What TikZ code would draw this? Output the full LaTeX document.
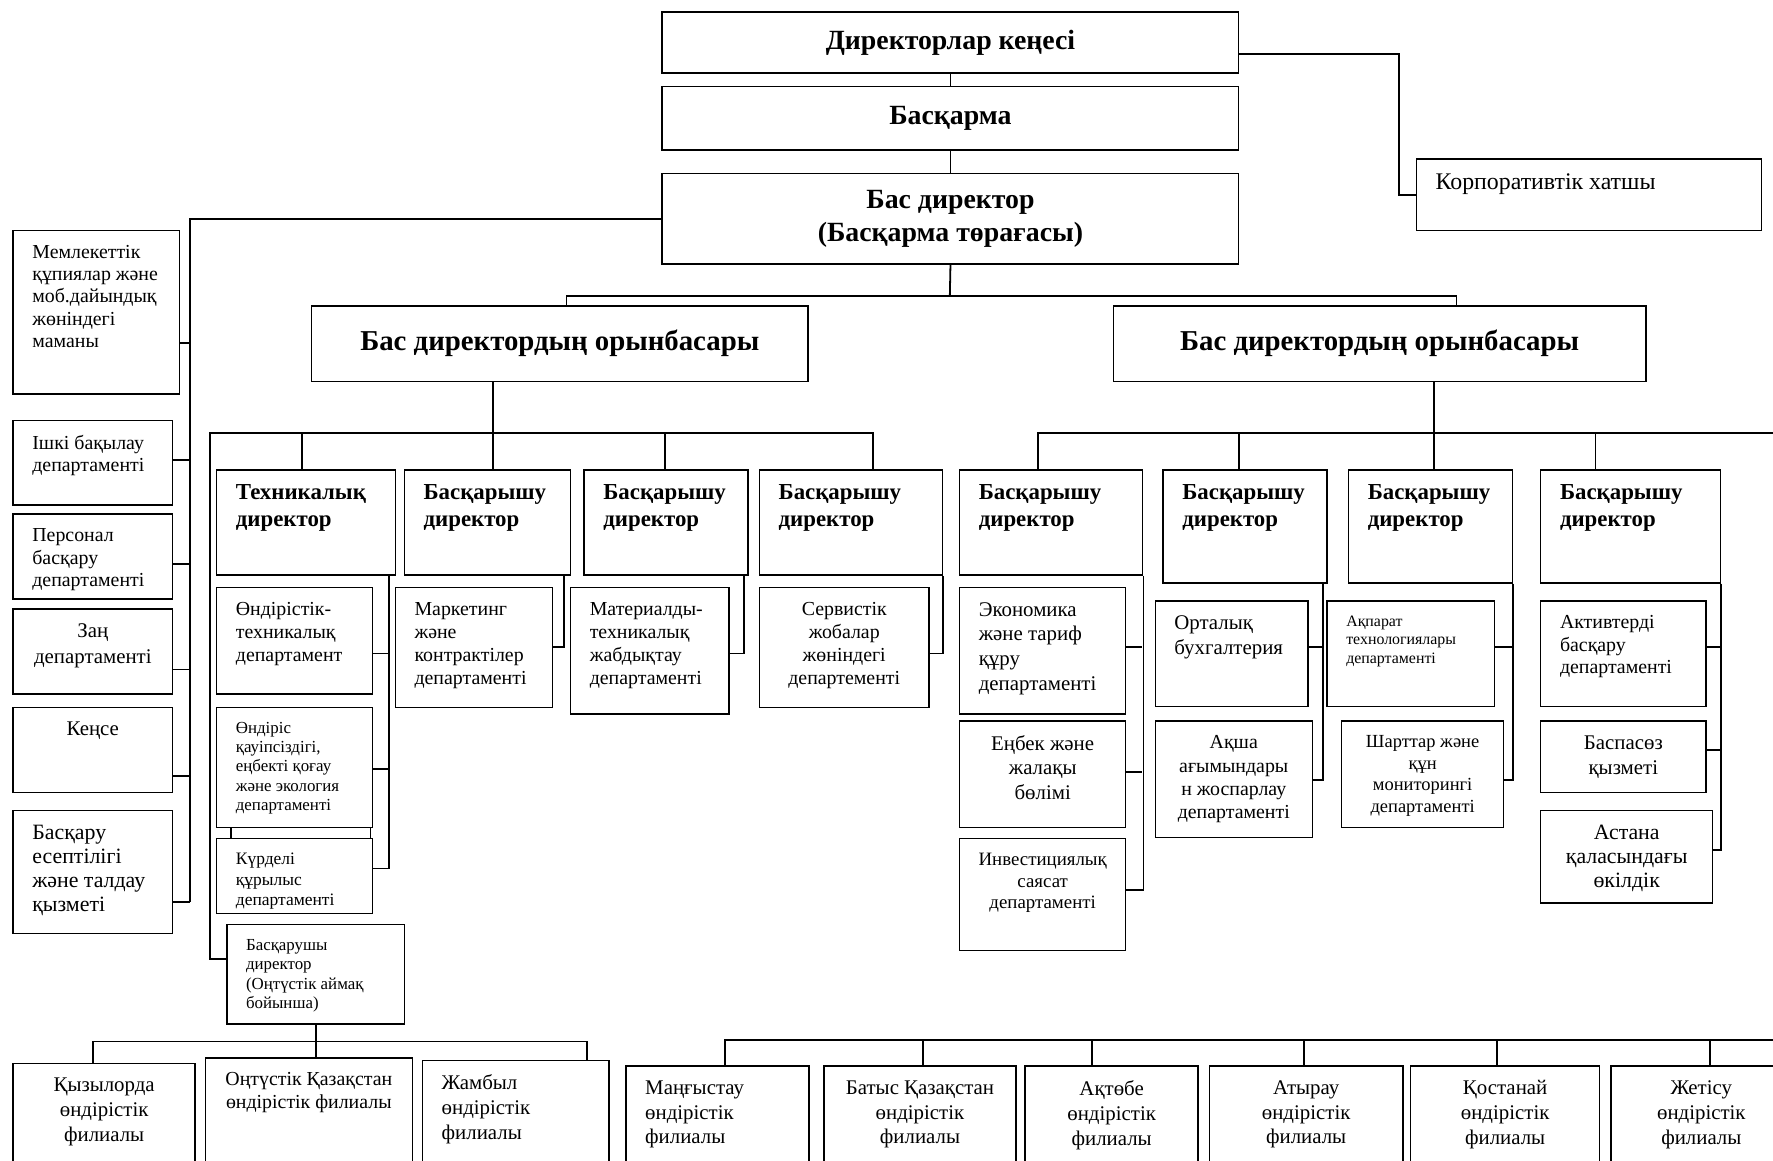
\documentclass[tikz,border=0pt]{standalone}
\usepackage{fontspec}
\setmainfont{Liberation Serif}
\usetikzlibrary{positioning}
\tikzstyle{unit}=[draw, line width=0.7pt, anchor=north west, inner xsep=0pt, inner ysep=0.26cm]
\tikzstyle{dept}=[unit, font=\fontsize{10}{11.6}\selectfont]
\tikzstyle{smalldept}=[unit, font=\fontsize{8.5}{9.7}\selectfont]
\tikzstyle{dirbox}=[unit, font=\bfseries\fontsize{11.5}{13.6}\selectfont]
\tikzstyle{filial}=[unit, font=\fontsize{10.5}{12.5}\selectfont]
\tikzstyle{headbox}=[draw, line width=0.7pt, anchor=north west, inner sep=0pt, align=center, font=\bfseries\fontsize{14}{17}\selectfont]
\tikzstyle{link}=[line width=0.9pt]
\newcommand{\pb}[3]{\parbox[c][\dimexpr 0.02cm*#2-0.52cm\relax][t]{\dimexpr 0.02cm*#1\relax}{\raggedright\leftskip=0.34cm #3}}

\begin{document}
\begin{tikzpicture}[x=0.02cm, y=-0.02cm]
\useasboundingbox (0,0) rectangle (1568,1026);

% top level
\node[headbox, minimum width=10.2cm, minimum height=1.08cm] (board) at (585,10) {Директорлар кеңесі};
\node[headbox, minimum width=10.2cm, minimum height=1.12cm] (mgmt) at (585,76) {Басқарма};
\node[headbox, minimum width=10.2cm, minimum height=1.6cm] (ceo) at (585,153) {Бас директор\\(Басқарма төрағасы)};
\node[dept, font=\fontsize{12}{14}\selectfont] (secr) at (1252,140) {\pb{305}{63}{Корпоративтік хатшы}};
\node[headbox, minimum width=8.78cm, minimum height=1.34cm, font=\bfseries\fontsize{14.5}{17}\selectfont] (depL) at (275,270) {\raisebox{0.14cm}{Бас директордың орынбасары}};
\node[headbox, minimum width=9.42cm, minimum height=1.34cm, font=\bfseries\fontsize{14.5}{17}\selectfont] (depR) at (984,270) {\raisebox{0.14cm}{Бас директордың орынбасары}};

% left column
\node[dept, font=\fontsize{10}{11.3}\selectfont] (gov) at (11,203) {\pb{147}{145}{Мемлекеттік\\құпиялар және\\моб.дайындық\\жөніндегі\\маманы}};
\node[dept, font=\fontsize{10}{11.3}\selectfont] (audit) at (11,371) {\pb{141}{75}{Ішкі бақылау\\департаменті}};
\node[dept, font=\fontsize{10}{11.3}\selectfont] (hr) at (11,454) {\pb{141}{75}{Персонал\\басқару\\департаменті}};
\node[dept, font=\fontsize{10.5}{13}\selectfont] (legal) at (11,538) {\pb{141}{75}{\centering Заң\\департаменті}};
\node[dept, font=\fontsize{10.5}{13}\selectfont] (office) at (11,625) {\pb{141}{75}{\centering Кеңсе}};
\node[dept, font=\fontsize{11}{12.1}\selectfont] (mgacc) at (11,716) {\pb{141}{109}{Басқару\\есептілігі\\және талдау\\қызметі}};

% left deputy
\node[dirbox] (tech) at (191,415) {\pb{158}{93}{Техникалық\\директор}};
\node[dirbox] (dirA) at (357,415) {\pb{147}{93}{Басқарышу\\директор}};
\node[dirbox] (dirB) at (516,415) {\pb{145}{93}{Басқарышу\\директор}};
\node[dirbox] (dirC) at (671,415) {\pb{162}{93}{Басқарышу\\директор}};
\node[dept] (prodtech) at (191,519) {\pb{138}{94}{Өндірістік-\\техникалық\\департамент}};
\node[smalldept] (safety) at (191,625) {\pb{138}{106}{Өндіріс\\қауіпсіздігі,\\еңбекті қоғау\\және экология\\департаменті}};
\node[smalldept, font=\fontsize{8.8}{10.2}\selectfont] (capcon) at (191,741) {\pb{138}{66}{Күрделі\\құрылыс\\департаменті}};
\node[dept] (mkt) at (349,519) {\pb{139}{106}{Маркетинг\\және\\контрактілер\\департаменті}};
\node[dept] (matl) at (504,519) {\pb{140}{112}{Материалды-\\техникалық\\жабдықтау\\департаменті}};
\node[dept] (serv) at (671,519) {\pb{150}{106}{\centering Сервистік\\жобалар\\жөніндегі\\департементі}};
\node[smalldept, font=\fontsize{8.5}{9.8}\selectfont] (south) at (200,817) {\pb{157}{88}{Басқарушы\\директор\\(Оңтүстік аймақ\\бойынша)}};

% right deputy
\node[dirbox] (dirD) at (848,415) {\pb{162}{93}{Басқарышу\\директор}};
\node[dirbox] (dirE) at (1028,415) {\pb{145}{100}{Басқарышу\\директор}};
\node[dirbox] (dirF) at (1192,415) {\pb{145}{100}{Басқарышу\\директор}};
\node[dirbox] (dirG) at (1362,415) {\pb{159}{100}{Басқарышу\\директор}};
\node[dept, font=\fontsize{10.5}{12.5}\selectfont] (econ) at (848,519) {\pb{147}{112}{Экономика\\және тариф\\құру\\департаменті}};
\node[dept, font=\fontsize{10.5}{12.2}\selectfont] (labour) at (848,637) {\pb{147}{94}{\centering Еңбек және\\жалақы\\бөлімі}};
\node[smalldept, font=\fontsize{9.5}{10.8}\selectfont] (invest) at (848,741) {\pb{147}{99}{\centering Инвестициялық\\саясат\\департаменті}};
\node[dept, font=\fontsize{10.5}{12.5}\selectfont] (acct) at (1021,531) {\pb{135}{93}{Орталық\\бухгалтерия}};
\node[dept, font=\fontsize{10}{11.7}\selectfont] (cash) at (1021,637) {\pb{139}{103}{\centering Ақша\\ағымындары\\н жоспарлау\\департаменті}};
\node[smalldept, font=\fontsize{8}{9.4}\selectfont] (it) at (1173,531) {\pb{148}{93}{Ақпарат\\технологиялары\\департаменті}};
\node[smalldept, font=\fontsize{9.3}{10.8}\selectfont] (contr) at (1186,637) {\pb{143}{94}{\centering Шарттар және\\құн\\мониторингі\\департаменті}};
\node[dept, font=\fontsize{10}{11.3}\selectfont] (assets) at (1362,531) {\pb{146}{93}{Активтерді\\басқару\\департаменті}};
\node[dept, font=\fontsize{10.5}{12.5}\selectfont] (press) at (1362,637) {\pb{146}{63}{\centering Баспасөз\\қызметі}};
\node[dept, font=\fontsize{11}{12.2}\selectfont] (astana) at (1362,716) {\pb{152}{82}{\centering Астана\\қаласындағы\\өкілдік}};

% filials
\node[filial] (kzo) at (11,940) {\pb{161}{110}{\centering Қызылорда\\өндірістік\\филиалы}};
\node[filial, font=\fontsize{10}{11.5}\selectfont] (shym) at (181,935) {\pb{183}{115}{\centering Оңтүстік Қазақстан\\өндірістік филиалы}};
\node[filial] (zham) at (373,937) {\pb{165}{113}{Жамбыл\\өндірістік\\филиалы}};
\node[filial] (mang) at (553,942) {\pb{162}{110}{Маңғыстау\\өндірістік\\филиалы}};
\node[filial] (west) at (728,942) {\pb{170}{110}{\centering Батыс Қазақстан\\өндірістік\\филиалы}};
\node[filial] (akt) at (906,942) {\pb{153}{110}{\centering Ақтөбе\\өндірістік\\филиалы}};
\node[filial] (atyr) at (1069,942) {\pb{171}{110}{\centering Атырау\\өндірістік\\филиалы}};
\node[filial] (kost) at (1247,942) {\pb{167}{110}{\centering Қостанай\\өндірістік\\филиалы}};
\node[filial] (zhet) at (1424,942) {\pb{160}{110}{\centering Жетісу\\өндірістік\\филиалы}};

% connectors, top
\coordinate (secbend) at (1237,48);
\coordinate (jc) at (840,262);
\draw[link] (board) -- (mgmt);
\draw[link] (mgmt) -- (ceo);
\draw[link] (board.east |- secbend) -- (secbend) |- (secr.west);
\draw[link] (ceo.south) -- (jc);
\draw[link] (depL.north -| 501,0) |- (jc) -| (depR.north -| 1288,0);

% left column
\draw[link] (ceo.west) -| (168,798);
\foreach \n/\y in {gov/303, audit/407, hr/499, legal/592, office/686, mgacc/798}
  \draw[link] (\n.east |- 0,\y) -- (168,\y);

% left deputy tree
\draw[link] (depL.south -| 436,0) -- (dirA.north -| 436,0);
\draw[link] (south.west |- 0,848) -| (186,383) -| (dirC.north -| 772,0);
\foreach \n/\x in {tech/267, dirB/588}
  \draw[link] (\n.north -| \x,0) -- (\x,383);
\draw[link] (tech.south -| 344,0) |- (capcon.east |- 0,768);
\foreach \n/\y in {prodtech/578, safety/680}
  \draw[link] (\n.east |- 0,\y) -- (344,\y);
\draw[link] ([xshift=0.26cm]safety.south west) -- ([xshift=0.26cm]capcon.north west);
\draw[link] ([xshift=-0.05cm]safety.south east) -- ([xshift=-0.05cm]capcon.north east);
\draw[link] (dirA.south -| 499,0) |- (mkt.east |- 0,572);
\draw[link] (dirB.south -| 658,0) |- (matl.east |- 0,578);
\draw[link] (dirC.south east) |- (serv.east |- 0,578);
\draw[link] (south.south) -- (south.south |- shym.north);
\draw[link] (kzo.north -| 82,0) -- (82,921) -| (zham.north -| 519,0);

% right deputy tree
\draw[link] (depR.south -| 1268,0) -- (dirF.north -| 1268,0);
\draw[link] (dirD.north -| 918,0) |- (1580,383);
\foreach \n/\x in {dirE/1096, dirG/1411}
  \draw[link] (\n.north -| \x,0) -- (\x,383);
\draw[link] (dirD.south east) |- (invest.east |- 0,787);
\foreach \n/\y in {econ/572, labour/683}
  \draw[link] (\n.east |- 0,\y) -- (1010,\y);
\draw[link] (dirE.south -| 1170,0) |- (cash.east |- 0,690);
\draw[link] (acct.east |- 0,572) -- (1170,572);
\draw[link] (dirF.south east) |- (contr.east |- 0,690);
\draw[link] (it.east |- 0,572) -- (1337,572);
\draw[link] (dirG.south east) |- (astana.east |- 0,752);
\foreach \n/\y in {assets/572, press/663}
  \draw[link] (\n.east |- 0,\y) -- (1521,\y);

% filial bus
\draw[link] (mang.north -| 641,0) -- (641,920) -- (1580,920);
\foreach \n/\x in {west/816, akt/966, atyr/1153, kost/1324, zhet/1512}
  \draw[link] (\n.north -| \x,0) -- (\x,920);
\end{tikzpicture}
\end{document}
